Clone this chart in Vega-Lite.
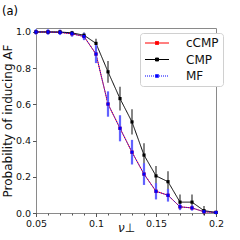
{
  "$schema": "https://vega.github.io/schema/vega-lite/v6.json",
  "autosize": "none",
  "width": 180,
  "height": 185,
  "padding": {"left": 36, "top": 28, "right": 24, "bottom": 27},
  "background": "white",
  "title": {"text": "(a)", "anchor": "start", "frame": "group", "dx": -34, "dy": 2, "offset": 2, "baseline": "alphabetic", "fontSize": 11.5, "fontWeight": "normal", "font": "DejaVu Sans", "color": "black"},
  "config": {
    "font": "DejaVu Sans",
    "view": {"stroke": "#8a8a8a", "strokeWidth": 1},
    "axis": {"grid": false, "domain": false, "tickColor": "#555", "tickSize": 3.5, "labelFontSize": 9.5, "labelColor": "#111", "titleFontSize": 12, "titleFontWeight": "normal", "titleColor": "#111", "labelFont": "DejaVu Sans", "titleFont": "DejaVu Sans", "labelFlush": false}
  },
  "data": {"values": [
    {"x": 0.05, "series": "cCMP", "y": 1.0, "err": 0.015},
    {"x": 0.06, "series": "cCMP", "y": 1.0, "err": 0.015},
    {"x": 0.07, "series": "cCMP", "y": 0.998, "err": 0.015},
    {"x": 0.08, "series": "cCMP", "y": 0.99, "err": 0.016},
    {"x": 0.09, "series": "cCMP", "y": 0.975, "err": 0.02},
    {"x": 0.10, "series": "cCMP", "y": 0.878, "err": 0.05},
    {"x": 0.11, "series": "cCMP", "y": 0.602, "err": 0.07},
    {"x": 0.12, "series": "cCMP", "y": 0.468, "err": 0.072},
    {"x": 0.13, "series": "cCMP", "y": 0.336, "err": 0.068},
    {"x": 0.14, "series": "cCMP", "y": 0.215, "err": 0.06},
    {"x": 0.15, "series": "cCMP", "y": 0.12, "err": 0.045},
    {"x": 0.16, "series": "cCMP", "y": 0.098, "err": 0.035},
    {"x": 0.17, "series": "cCMP", "y": 0.034, "err": 0.018},
    {"x": 0.18, "series": "cCMP", "y": 0.028, "err": 0.015},
    {"x": 0.19, "series": "cCMP", "y": 0.007, "err": 0.008},
    {"x": 0.20, "series": "cCMP", "y": 0.003, "err": 0.005},
    {"x": 0.05, "series": "CMP", "y": 1.0, "err": 0.005},
    {"x": 0.06, "series": "CMP", "y": 1.0, "err": 0.005},
    {"x": 0.07, "series": "CMP", "y": 1.0, "err": 0.005},
    {"x": 0.08, "series": "CMP", "y": 0.995, "err": 0.008},
    {"x": 0.09, "series": "CMP", "y": 0.982, "err": 0.015},
    {"x": 0.10, "series": "CMP", "y": 0.937, "err": 0.026},
    {"x": 0.11, "series": "CMP", "y": 0.78, "err": 0.06},
    {"x": 0.12, "series": "CMP", "y": 0.632, "err": 0.066},
    {"x": 0.13, "series": "CMP", "y": 0.503, "err": 0.07},
    {"x": 0.14, "series": "CMP", "y": 0.32, "err": 0.066},
    {"x": 0.15, "series": "CMP", "y": 0.205, "err": 0.055},
    {"x": 0.16, "series": "CMP", "y": 0.173, "err": 0.058},
    {"x": 0.17, "series": "CMP", "y": 0.06, "err": 0.042},
    {"x": 0.18, "series": "CMP", "y": 0.06, "err": 0.042},
    {"x": 0.19, "series": "CMP", "y": 0.013, "err": 0.025},
    {"x": 0.20, "series": "CMP", "y": 0.003, "err": 0.01},
    {"x": 0.05, "series": "MF", "y": 1.0, "err": 0.015},
    {"x": 0.06, "series": "MF", "y": 1.0, "err": 0.015},
    {"x": 0.07, "series": "MF", "y": 0.998, "err": 0.015},
    {"x": 0.08, "series": "MF", "y": 0.99, "err": 0.016},
    {"x": 0.09, "series": "MF", "y": 0.975, "err": 0.02},
    {"x": 0.10, "series": "MF", "y": 0.878, "err": 0.05},
    {"x": 0.11, "series": "MF", "y": 0.602, "err": 0.07},
    {"x": 0.12, "series": "MF", "y": 0.468, "err": 0.072},
    {"x": 0.13, "series": "MF", "y": 0.336, "err": 0.068},
    {"x": 0.14, "series": "MF", "y": 0.215, "err": 0.06},
    {"x": 0.15, "series": "MF", "y": 0.12, "err": 0.045},
    {"x": 0.16, "series": "MF", "y": 0.098, "err": 0.035},
    {"x": 0.17, "series": "MF", "y": 0.034, "err": 0.018},
    {"x": 0.18, "series": "MF", "y": 0.028, "err": 0.015},
    {"x": 0.19, "series": "MF", "y": 0.007, "err": 0.008},
    {"x": 0.20, "series": "MF", "y": 0.003, "err": 0.005}
  ]},
  "encoding": {
    "y": {"field": "y", "type": "quantitative", "scale": {"domain": [0, 1.022], "nice": false, "zero": false},
      "axis": {"title": "Probability of inducing AF", "values": [0, 0.2, 0.4, 0.6, 0.8, 1.0], "format": ".1f", "labelPadding": 2, "titlePadding": 1}}
  },
  "layer": [
    {
      "transform": [{"filter": "datum.series === 'CMP'"}],
      "mark": {"type": "errorbar", "color": "#000000", "opacity": 0.6, "thickness": 1.6},
      "encoding": {
        "x": {"field": "x", "type": "quantitative", "scale": {"domain": [0.05, 0.2], "nice": false, "zero": false},
          "axis": {"orient": "bottom", "title": "ν⊥", "titleFontStyle": "italic", "values": [0.05, 0.1, 0.15, 0.2], "format": "~g", "labelPadding": 1.5, "titlePadding": -5}},
        "yError": {"field": "err"}
      }
    },
    {
      "mark": {"type": "line", "strokeWidth": 1},
      "encoding": {
        "x": {"field": "x", "type": "quantitative", "scale": {"domain": [0.05, 0.2], "nice": false, "zero": false}, "axis": null},
        "color": {"field": "series", "type": "nominal",
          "scale": {"domain": ["cCMP", "CMP", "MF"], "range": ["#ff0000", "#000000", "#0000ff"]},
          "legend": {"title": null, "orient": "none", "legendX": 104, "legendY": 5,
            "symbolType": "M-3,0H3M-0.375,-0.375H0.375V0.375H-0.375Z", "symbolSize": 64, "symbolStrokeWidth": 1,
            "symbolOffset": 7, "labelOffset": 23, "rowPadding": 4.5, "padding": 4,
            "labelFontSize": 12, "labelFont": "DejaVu Sans", "labelColor": "#111",
            "strokeColor": "#d0d0d0", "fillColor": "white", "cornerRadius": 3,
            "encode": {"symbols": {"update": {"fill": {"scale": "color", "field": "value"}}}}}},
        "strokeDash": {"field": "series", "type": "nominal",
          "scale": {"domain": ["cCMP", "CMP", "MF"], "range": [[1, 0], [1, 0], [1, 1]]}}
      }
    },
    {
      "transform": [{"filter": "datum.series === 'MF'"}],
      "mark": {"type": "errorbar", "color": "#6262ff", "opacity": 1, "thickness": 2.2},
      "encoding": {
        "x": {"field": "x", "type": "quantitative", "scale": {"domain": [0.05, 0.2], "nice": false, "zero": false}, "axis": null},
        "yError": {"field": "err"}
      }
    },
    {
      "mark": {"type": "square", "size": 10, "filled": true, "opacity": 1},
      "encoding": {
        "x": {"field": "x", "type": "quantitative", "scale": {"domain": [0.05, 0.2], "nice": false, "zero": false},
          "axis": {"orient": "bottom", "title": null, "labels": false, "domain": false, "tickSize": 2, "values": [0.05, 0.06, 0.07, 0.08, 0.09, 0.1, 0.11, 0.12, 0.13, 0.14, 0.15, 0.16, 0.17, 0.18, 0.19, 0.2]}},
        "color": {"field": "series", "type": "nominal", "scale": {"domain": ["cCMP", "CMP", "MF"], "range": ["#ff0000", "#000000", "#0000ff"]}}
      }
    }
  ],
  "resolve": {"axis": {"x": "independent"}}
}
